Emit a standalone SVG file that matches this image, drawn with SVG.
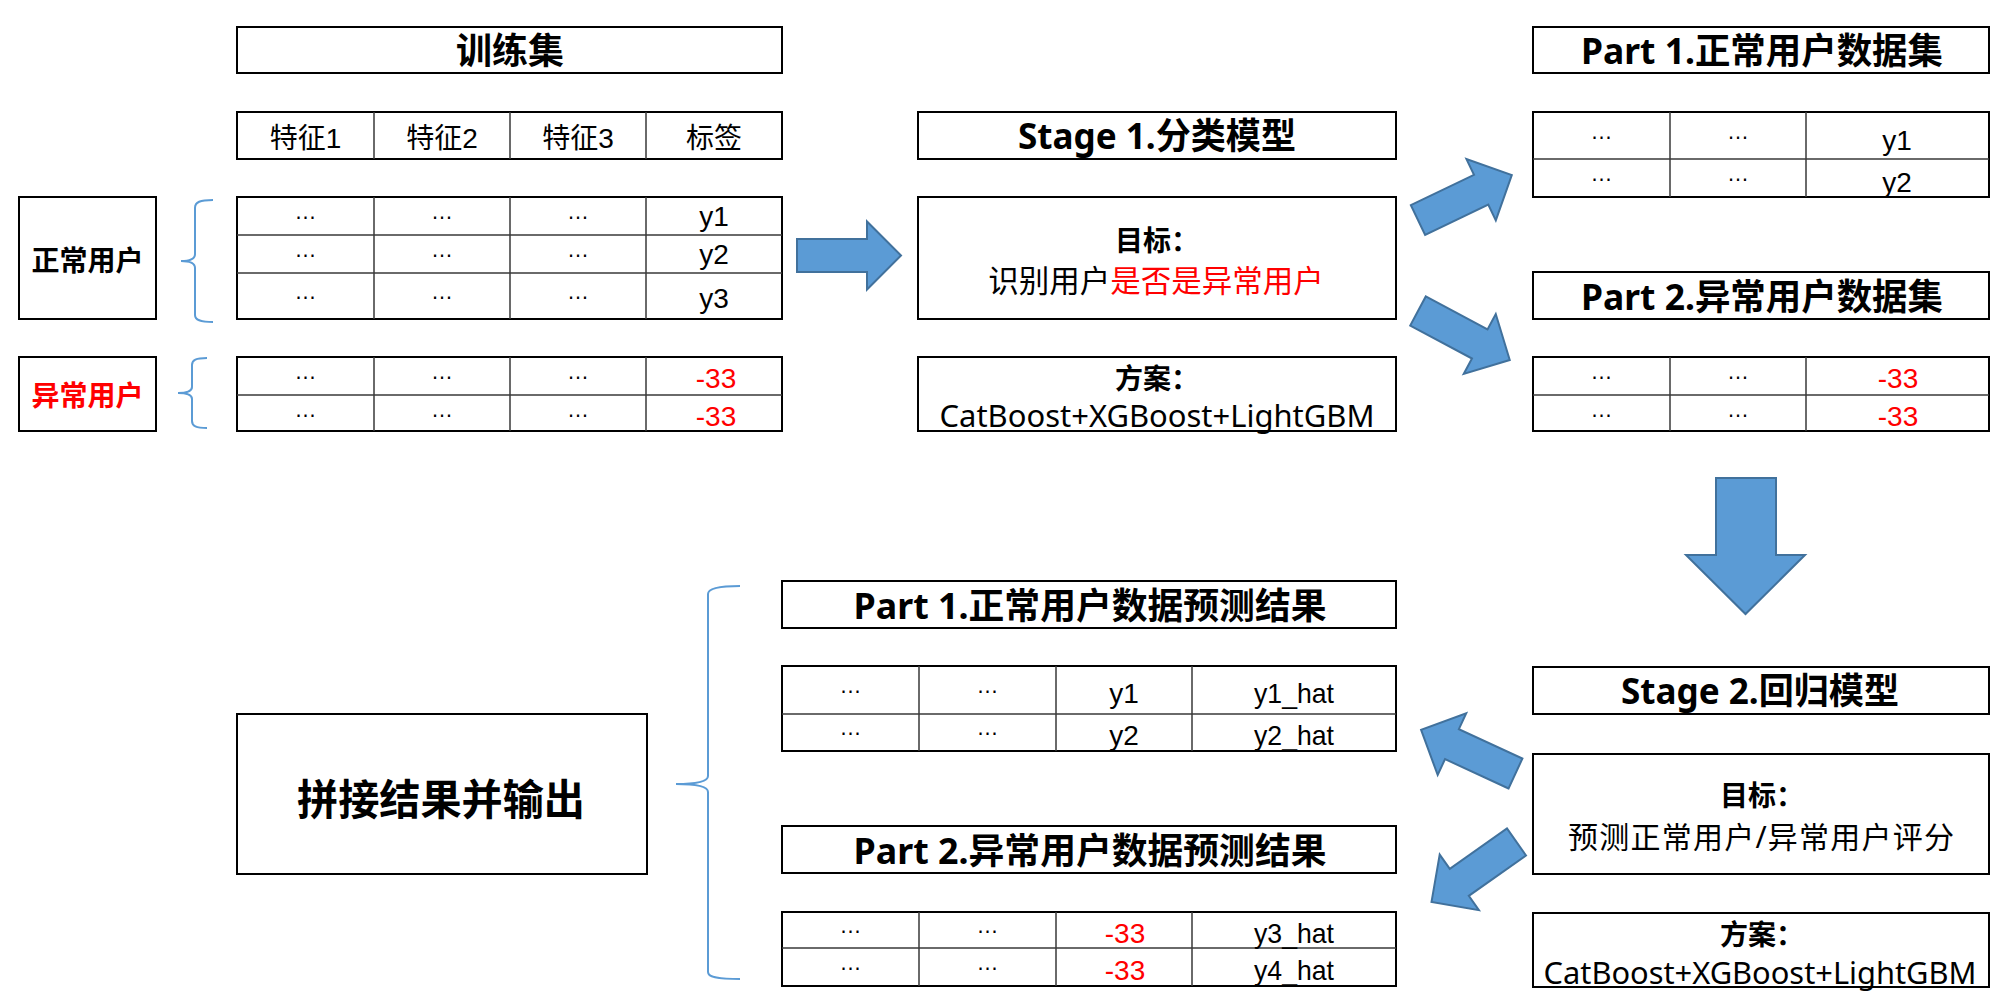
<svg xmlns="http://www.w3.org/2000/svg" xmlns:xlink="http://www.w3.org/1999/xlink" width="2000" height="1006" viewBox="0 0 2000 1006">
<style>
.box{fill:#fff;stroke:#000;stroke-width:2}
.ln{stroke:#3a3a3a;stroke-width:1.5;fill:none}
.br{fill:none;stroke:#5B9BD5;stroke-width:2}
.b{font-family:"Noto Sans","Noto Sans CJK SC",sans-serif;font-weight:bold;fill:#000;text-anchor:middle}
.m{font-family:"Noto Sans","Noto Sans CJK SC",sans-serif;fill:#000;text-anchor:middle}
.t{font-family:"Liberation Sans","Noto Sans CJK SC",sans-serif;font-size:28px;fill:#000;text-anchor:middle}
.d{font-family:"Liberation Sans",sans-serif;font-size:22px;fill:#000;text-anchor:middle}
.red{fill:#FF0000}
.arw{fill:#5B9BD5;stroke:#41719C;stroke-width:2}
</style>
<defs>
<polygon id="arr" points="0,-16.5 70,-16.5 70,-34 104,0 70,34 70,16.5 0,16.5"/>
</defs>

<g id="train-title"><rect class="box" x="237" y="27" width="545" height="46"/><text class="b" x="510" y="64" font-size="36">训练集</text></g>

<g id="train-header"><rect class="box" x="237" y="112" width="545" height="47"/>
<path class="ln" d="M374,112V159M510,112V159M646,112V159"/>
<text class="t" x="305.5" y="148">特征1</text><text class="t" x="442" y="148">特征2</text><text class="t" x="578" y="148">特征3</text><text class="t" x="714" y="148">标签</text></g>

<g id="train-normal"><rect class="box" x="237" y="197" width="545" height="122"/>
<path class="ln" d="M374,197V319M510,197V319M646,197V319M237,235H782M237,273H782"/>
<text class="d" x="305.5" y="219">…</text><text class="d" x="442" y="219">…</text><text class="d" x="578" y="219">…</text>
<text class="d" x="305.5" y="257">…</text><text class="d" x="442" y="257">…</text><text class="d" x="578" y="257">…</text>
<text class="d" x="305.5" y="299">…</text><text class="d" x="442" y="299">…</text><text class="d" x="578" y="299">…</text>
<text class="t" x="714" y="226">y1</text><text class="t" x="714" y="264">y2</text><text class="t" x="714" y="308">y3</text></g>

<g id="train-abnormal"><rect class="box" x="237" y="357" width="545" height="74"/>
<path class="ln" d="M374,357V431M510,357V431M646,357V431M237,395H782"/>
<text class="d" x="305.5" y="379">…</text><text class="d" x="442" y="379">…</text><text class="d" x="578" y="379">…</text>
<text class="d" x="305.5" y="417">…</text><text class="d" x="442" y="417">…</text><text class="d" x="578" y="417">…</text>
<text class="t red" x="716" y="388">-33</text><text class="t red" x="716" y="426">-33</text></g>

<g id="normal-user"><rect class="box" x="19" y="197" width="137" height="122"/><text class="b" x="87.5" y="271" font-size="28">正常用户</text></g>
<g id="abnormal-user"><rect class="box" x="19" y="357" width="137" height="74"/><text class="b red" x="87.5" y="406" font-size="28">异常用户</text></g>

<g id="stage1-title"><rect class="box" x="918" y="112" width="478" height="47"/><text class="b" x="1157" y="149" font-size="36" textLength="278" lengthAdjust="spacingAndGlyphs">Stage 1.分类模型</text></g>
<g id="stage1-goal"><rect class="box" x="918" y="197" width="478" height="122"/>
<text class="b" x="1157" y="251" font-size="28">目标：</text>
<text class="m" x="1156" y="292" font-size="30.5">识别用户<tspan class="red">是否是异常用户</tspan></text></g>
<g id="stage1-plan"><rect class="box" x="918" y="357" width="478" height="74"/>
<text class="b" x="1157" y="389" font-size="28">方案：</text>
<text class="m" x="1157" y="427" font-size="31" textLength="435" lengthAdjust="spacingAndGlyphs">CatBoost+XGBoost+LightGBM</text></g>

<g id="part1-title"><rect class="box" x="1533" y="27" width="456" height="46"/><text class="b" x="1762" y="64" font-size="36" textLength="362" lengthAdjust="spacingAndGlyphs">Part 1.正常用户数据集</text></g>
<g id="part1-table"><rect class="box" x="1533" y="112" width="456" height="85"/>
<path class="ln" d="M1670,112V197M1806,112V197M1533,159H1989"/>
<text class="d" x="1601.5" y="139">…</text><text class="d" x="1738" y="139">…</text>
<text class="d" x="1601.5" y="181">…</text><text class="d" x="1738" y="181">…</text>
<text class="t" x="1897" y="150">y1</text><text class="t" x="1897" y="192">y2</text></g>

<g id="part2-title"><rect class="box" x="1533" y="272" width="456" height="47"/><text class="b" x="1762" y="310" font-size="36" textLength="362" lengthAdjust="spacingAndGlyphs">Part 2.异常用户数据集</text></g>
<g id="part2-table"><rect class="box" x="1533" y="357" width="456" height="74"/>
<path class="ln" d="M1670,357V431M1806,357V431M1533,395H1989"/>
<text class="d" x="1601.5" y="379">…</text><text class="d" x="1738" y="379">…</text>
<text class="d" x="1601.5" y="417">…</text><text class="d" x="1738" y="417">…</text>
<text class="t red" x="1898" y="388">-33</text><text class="t red" x="1898" y="426">-33</text></g>

<g id="stage2-title"><rect class="box" x="1533" y="667" width="456" height="47"/><text class="b" x="1760" y="704" font-size="36" textLength="278" lengthAdjust="spacingAndGlyphs">Stage 2.回归模型</text></g>
<g id="stage2-goal"><rect class="box" x="1533" y="754" width="456" height="120"/>
<text class="b" x="1762" y="806" font-size="28">目标：</text>
<text class="m" x="1761" y="848" font-size="30" textLength="386" lengthAdjust="spacing">预测正常用户/异常用户评分</text></g>
<g id="stage2-plan"><rect class="box" x="1533" y="913" width="456" height="74"/>
<text class="b" x="1762" y="945" font-size="28">方案：</text>
<text class="m" x="1760" y="984" font-size="31" textLength="433" lengthAdjust="spacingAndGlyphs">CatBoost+XGBoost+LightGBM</text></g>

<g id="pred1-title"><rect class="box" x="782" y="581" width="614" height="47"/><text class="b" x="1090" y="619" font-size="36" textLength="473" lengthAdjust="spacingAndGlyphs">Part 1.正常用户数据预测结果</text></g>
<g id="pred1-table"><rect class="box" x="782" y="666" width="614" height="85"/>
<path class="ln" d="M919,666V751M1056,666V751M1192,666V751M782,714H1396"/>
<text class="d" x="850.5" y="693">…</text><text class="d" x="987.5" y="693">…</text>
<text class="d" x="850.5" y="735">…</text><text class="d" x="987.5" y="735">…</text>
<text class="t" x="1124" y="703">y1</text><text class="t" x="1294" y="703" textLength="80" lengthAdjust="spacingAndGlyphs">y1_hat</text>
<text class="t" x="1124" y="745">y2</text><text class="t" x="1294" y="745" textLength="80" lengthAdjust="spacingAndGlyphs">y2_hat</text></g>

<g id="pred2-title"><rect class="box" x="782" y="826" width="614" height="47"/><text class="b" x="1090" y="864" font-size="36" textLength="473" lengthAdjust="spacingAndGlyphs">Part 2.异常用户数据预测结果</text></g>
<g id="pred2-table"><rect class="box" x="782" y="912" width="614" height="74"/>
<path class="ln" d="M919,912V986M1056,912V986M1192,912V986M782,948H1396"/>
<text class="d" x="850.5" y="933">…</text><text class="d" x="987.5" y="933">…</text>
<text class="d" x="850.5" y="970">…</text><text class="d" x="987.5" y="970">…</text>
<text class="t red" x="1125" y="943">-33</text><text class="t" x="1294" y="943" textLength="80" lengthAdjust="spacingAndGlyphs">y3_hat</text>
<text class="t red" x="1125" y="980">-33</text><text class="t" x="1294" y="980" textLength="80" lengthAdjust="spacingAndGlyphs">y4_hat</text></g>

<g id="merge-output"><rect class="box" x="237" y="714" width="410" height="160"/><text class="b" x="441" y="815" font-size="42" textLength="288" lengthAdjust="spacingAndGlyphs">拼接结果并输出</text></g>

<g id="connectors">
<path class="br" d="M213,200C200,200 195,202 195,208L195,254C195,259 190,261 181,261C190,261 195,263 195,268L195,315C195,320 200,322 213,322"/>
<path class="br" d="M207,358C196,358 192,360 192,365L192,387C192,391 188,393 178,393C188,393 192,395 192,399L192,421C192,426 196,428 207,428"/>
<path class="br" d="M740,586C716,586 708,589 708,594L708,776C708,781 700,784 676,784C700,784 708,787 708,792L708,972C708,977 716,979 740,979"/>
<use xlink:href="#arr" class="arw" transform="translate(797,255.5)"/>
<use xlink:href="#arr" class="arw" transform="translate(1418,220) rotate(-25.6)"/>
<use xlink:href="#arr" class="arw" transform="translate(1418,311) rotate(28.1)"/>
<polygon class="arw" points="1716,478 1776,478 1776,555 1805,555 1745.5,614 1686,555 1716,555"/>
<use xlink:href="#arr" class="arw" transform="translate(1515.5,773.5) rotate(-155.2)"/>
<use xlink:href="#arr" class="arw" transform="translate(1516.5,842) rotate(144.8)"/>
</g>
</svg>
